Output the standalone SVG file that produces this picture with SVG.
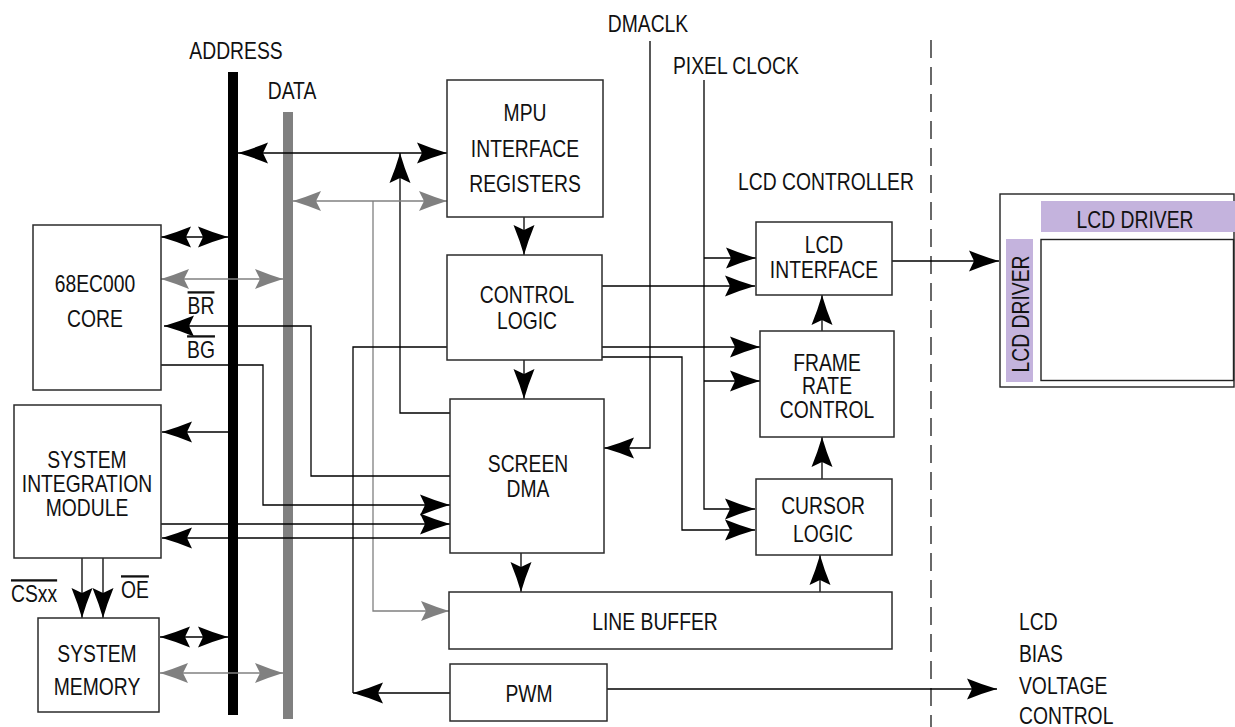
<svg xmlns="http://www.w3.org/2000/svg" width="1235" height="727" viewBox="0 0 1235 727">
<style>
.box{fill:#fff;stroke:#2b2b2b;stroke-width:1.5}
.ln{fill:none;stroke:#000;stroke-width:1.3}
.gl{fill:none;stroke:#808080;stroke-width:1.3}
.t{font-family:"Liberation Sans",Arial,sans-serif;font-size:23px;fill:#111}
.ov{text-decoration:overline}
.pur{fill:#c4b3dd}
</style>
<defs>
<marker id="ah" markerUnits="userSpaceOnUse" markerWidth="34" markerHeight="24" viewBox="-32 -12 34 24" refX="0" refY="0" orient="auto-start-reverse" overflow="visible"><path d="M0,0 Q-14,-4 -30,-10.5 L-25,0 L-30,10.5 Q-14,4 0,0 Z" fill="#000"/></marker>
<marker id="ag" markerUnits="userSpaceOnUse" markerWidth="34" markerHeight="24" viewBox="-32 -12 34 24" refX="0" refY="0" orient="auto-start-reverse" overflow="visible"><path d="M0,0 Q-13,-4 -28,-10 L-23,0 L-28,10 Q-13,4 0,0 Z" fill="#808080"/></marker>
</defs>

<g id="buses">
<rect x="228" y="72" width="10" height="643" fill="#000"/>
<rect x="283" y="112" width="10" height="607" fill="#808080"/>
<g transform="translate(236 0) scale(0.84 1)"><text class="t" x="0" y="59" text-anchor="middle">ADDRESS</text></g>
<g transform="translate(292 0) scale(0.84 1)"><text class="t" x="0" y="99" text-anchor="middle">DATA</text></g>
</g>

<g id="boundary">
<line x1="931" y1="40" x2="931" y2="727" stroke="#444" stroke-width="1.6" stroke-dasharray="18,9"/>
<g transform="translate(826 0) scale(0.84 1)"><text class="t" x="0" y="190" text-anchor="middle">LCD CONTROLLER</text></g>
</g>

<g id="connectors">
<path class="ln" d="M650,41 V448 H604" marker-end="url(#ah)"/>
<path class="ln" d="M704,80 V509 H755" marker-end="url(#ah)"/>
<path class="ln" d="M704,258 H756" marker-end="url(#ah)"/>
<path class="ln" d="M704,381 H760" marker-end="url(#ah)"/>
<path class="ln" d="M238,153 H447" marker-start="url(#ah)" marker-end="url(#ah)"/>
<path class="ln" d="M450,413 H400 V153" marker-end="url(#ah)"/>
<path class="gl" d="M293,201 H447" marker-start="url(#ag)" marker-end="url(#ag)"/>
<path class="gl" d="M373,201 V611 H449" marker-end="url(#ag)"/>
<path class="ln" d="M524,217 V255" marker-end="url(#ah)"/>
<path class="ln" d="M524,360 V399" marker-end="url(#ah)"/>
<path class="ln" d="M161,237 H228" marker-start="url(#ah)" marker-end="url(#ah)"/>
<path class="gl" d="M161,279 H283" marker-start="url(#ag)" marker-end="url(#ag)"/>
<path class="ln" d="M450,476 H311 V326 H164" marker-end="url(#ah)"/>
<path class="ln" d="M161,365 H263 V505 H450" marker-end="url(#ah)"/>
<path class="ln" d="M228,432 H162" marker-end="url(#ah)"/>
<path class="ln" d="M161,524 H450" marker-end="url(#ah)"/>
<path class="ln" d="M450,538 H162" marker-end="url(#ah)"/>
<path class="ln" d="M82,558 V618" marker-end="url(#ah)"/>
<path class="ln" d="M103,558 V618" marker-end="url(#ah)"/>
<path class="ln" d="M160,637 H228" marker-start="url(#ah)" marker-end="url(#ah)"/>
<path class="gl" d="M160,673 H283" marker-start="url(#ag)" marker-end="url(#ag)"/>
<path class="ln" d="M447,347 H353 V693"/>
<path class="ln" d="M450,693 H353" marker-end="url(#ah)"/>
<path class="ln" d="M607,689 H997" marker-end="url(#ah)"/>
<path class="ln" d="M602,286 H755" marker-end="url(#ah)"/>
<path class="ln" d="M602,347 H760" marker-end="url(#ah)"/>
<path class="ln" d="M602,357 H682 V530 H755" marker-end="url(#ah)"/>
<path class="ln" d="M822,331 V295" marker-end="url(#ah)"/>
<path class="ln" d="M822,479 V437" marker-end="url(#ah)"/>
<path class="ln" d="M521,553 V592" marker-end="url(#ah)"/>
<path class="ln" d="M820,592 V555" marker-end="url(#ah)"/>
<path class="ln" d="M892,261 H999" marker-end="url(#ah)"/>
</g>

<g id="mpu">
<rect class="box" x="447" y="80" width="156" height="137"/>
<g transform="translate(525 0) scale(0.84 1)"><text class="t" text-anchor="middle"><tspan x="0" y="121">MPU</tspan><tspan x="0" y="157">INTERFACE</tspan><tspan x="0" y="192">REGISTERS</tspan></text></g>
</g>
<g id="control-logic">
<rect class="box" x="447" y="255" width="155" height="105"/>
<g transform="translate(527 0) scale(0.84 1)"><text class="t" text-anchor="middle"><tspan x="0" y="303">CONTROL</tspan><tspan x="0" y="329">LOGIC</tspan></text></g>
</g>
<g id="screen-dma">
<rect class="box" x="450" y="399" width="154" height="154"/>
<g transform="translate(528 0) scale(0.84 1)"><text class="t" text-anchor="middle"><tspan x="0" y="472">SCREEN</tspan><tspan x="0" y="497">DMA</tspan></text></g>
</g>
<g id="line-buffer">
<rect class="box" x="449" y="592" width="443" height="57"/>
<g transform="translate(655 0) scale(0.84 1)"><text class="t" x="0" y="630" text-anchor="middle">LINE BUFFER</text></g>
</g>
<g id="pwm">
<rect class="box" x="450" y="664" width="157" height="57"/>
<g transform="translate(529 0) scale(0.84 1)"><text class="t" x="0" y="702" text-anchor="middle">PWM</text></g>
</g>
<g id="core">
<rect class="box" x="33" y="225" width="128" height="165"/>
<g transform="translate(95 0) scale(0.84 1)"><text class="t" text-anchor="middle"><tspan x="0" y="292">68EC000</tspan><tspan x="0" y="327">CORE</tspan></text></g>
<g transform="translate(201 0) scale(0.84 1)"><text class="t ov" x="0" y="314" text-anchor="middle">BR</text><text class="t ov" x="0" y="358" text-anchor="middle">BG</text></g>
</g>
<g id="sim">
<rect class="box" x="14" y="405" width="147" height="153"/>
<g transform="translate(87 0) scale(0.84 1)"><text class="t" text-anchor="middle"><tspan x="0" y="468">SYSTEM</tspan><tspan x="0" y="492">INTEGRATION</tspan><tspan x="0" y="516">MODULE</tspan></text></g>
<g transform="translate(11 0) scale(0.84 1)"><text class="t ov" x="0" y="602">CSxx</text></g>
<g transform="translate(121 0) scale(0.84 1)"><text class="t ov" x="0" y="598">OE</text></g>
</g>
<g id="memory">
<rect class="box" x="38" y="618" width="121" height="94"/>
<g transform="translate(97 0) scale(0.84 1)"><text class="t" text-anchor="middle"><tspan x="0" y="662">SYSTEM</tspan><tspan x="0" y="695">MEMORY</tspan></text></g>
</g>
<g id="lcd-interface">
<rect class="box" x="756" y="222" width="136" height="73"/>
<g transform="translate(824 0) scale(0.84 1)"><text class="t" text-anchor="middle"><tspan x="0" y="253">LCD</tspan><tspan x="0" y="278">INTERFACE</tspan></text></g>
</g>
<g id="frame-rate">
<rect class="box" x="760" y="331" width="134" height="106"/>
<g transform="translate(827 0) scale(0.84 1)"><text class="t" text-anchor="middle"><tspan x="0" y="371">FRAME</tspan><tspan x="0" y="394">RATE</tspan><tspan x="0" y="418">CONTROL</tspan></text></g>
</g>
<g id="cursor">
<rect class="box" x="756" y="479" width="136" height="76"/>
<g transform="translate(823 0) scale(0.84 1)"><text class="t" text-anchor="middle"><tspan x="0" y="514">CURSOR</tspan><tspan x="0" y="542">LOGIC</tspan></text></g>
</g>
<g id="clock-labels">
<g transform="translate(648 0) scale(0.84 1)"><text class="t" x="0" y="32" text-anchor="middle">DMACLK</text></g>
<g transform="translate(673 0) scale(0.84 1)"><text class="t" x="0" y="74">PIXEL CLOCK</text></g>
</g>
<g id="lcd-panel">
<rect x="1000" y="194" width="234" height="193" fill="#fff" stroke="#222" stroke-width="1.4"/>
<rect class="pur" x="1041" y="201" width="194" height="31"/>
<rect class="pur" x="1006" y="239" width="27" height="143"/>
<rect x="1041" y="239.5" width="192.5" height="141" fill="#fff" stroke="#222" stroke-width="1.4"/>
<g transform="translate(1135 0) scale(0.84 1)"><text class="t" x="0" y="228" text-anchor="middle">LCD DRIVER</text></g>
<g transform="translate(1029 314) rotate(-90) scale(0.84 1)"><text class="t" x="0" y="0" text-anchor="middle">LCD DRIVER</text></g>
</g>
<g id="bias-label">
<g transform="translate(1019 0) scale(0.84 1)"><text class="t"><tspan x="0" y="630">LCD</tspan><tspan x="0" y="662">BIAS</tspan><tspan x="0" y="694">VOLTAGE</tspan><tspan x="0" y="724">CONTROL</tspan></text></g>
</g>
</svg>
